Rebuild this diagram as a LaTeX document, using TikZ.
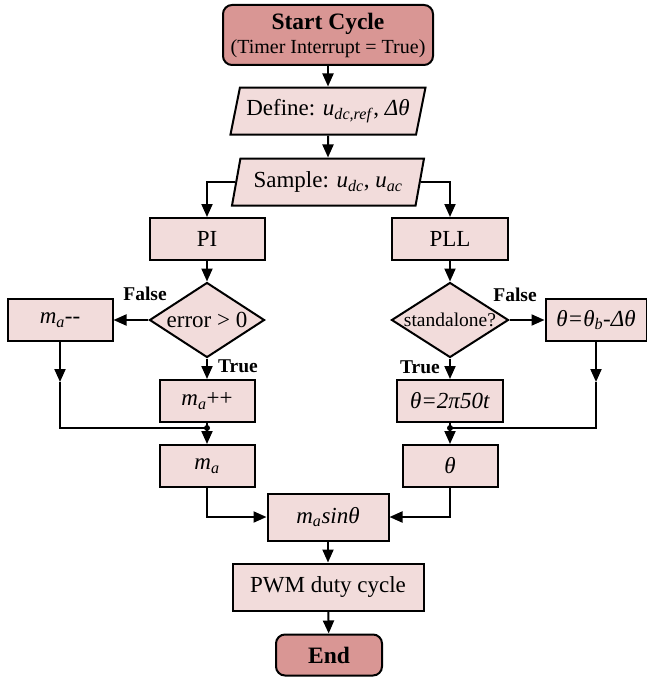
\documentclass[tikz,border=0pt]{standalone}
\usepackage{fontspec}
\setmainfont{Liberation Serif}
\usetikzlibrary{shapes.geometric,arrows.meta}
\definecolor{darkfill}{HTML}{D99694}
\definecolor{lightfill}{HTML}{F2DCDB}
\newcommand{\dtext}[1]{\smash{\makebox[0pt]{\raisebox{-0.32em}{#1}}}}
\begin{document}
\begin{tikzpicture}[x=1pt,y=-1pt,
  base/.style={draw=black,line width=2pt,font=\fontsize{23}{25}\selectfont},
  term/.style={base,rectangle,rounded corners=9pt,fill=darkfill,inner sep=0pt,align=center},
  proc/.style={base,rectangle,fill=lightfill,inner sep=0pt},
  io/.style={base,trapezium,trapezium left angle=68,trapezium right angle=112,trapezium stretches body,fill=lightfill,inner sep=0pt},
  dec/.style={base,diamond,fill=lightfill,inner sep=0pt},
  conn/.style={line width=2pt,-{Triangle[length=13pt,width=11pt]}},
  plain/.style={line width=2pt},
  lbl/.style={font=\fontsize{19.5}{21}\selectfont\bfseries}
]
\useasboundingbox (0,0) rectangle (647,677);

\node[term,minimum width=210pt,minimum height=60pt] (start) at (328,35)
  {{\fontsize{23.5}{25}\selectfont\bfseries Start Cycle}\\[-1pt]{\fontsize{20}{22}\selectfont (Timer Interrupt = True)}};
\node[io,minimum width=195pt,minimum height=47pt] (def) at (328,111)
  {Define: \textit{u}\textsubscript{\textit{dc,ref}}, \textit{Δθ}};
\node[io,minimum width=192pt,minimum height=47pt] (sample) at (328,182)
  {Sample: \textit{u}\textsubscript{\textit{dc}}, \textit{u}\textsubscript{\textit{ac}}};
\node[proc,minimum width=115pt,minimum height=42pt] (pi) at (207,239) {PI};
\node[proc,minimum width=116pt,minimum height=42pt] (pll) at (450,239) {PLL};
\node[dec,minimum width=115pt,minimum height=75pt] (err) at (207,320) {\dtext{error > 0}};
\node[dec,minimum width=117pt,minimum height=75pt,font=\fontsize{19.5}{21}\selectfont] (sa) at (450,320) {\dtext{standalone?}};
\node[proc,minimum width=105pt,minimum height=42pt] (mam) at (60,320) {\textit{m}\textsubscript{\textit{a}}-{}-};
\node[proc,minimum width=95pt,minimum height=42pt] (map) at (207,401) {\textit{m}\textsubscript{\textit{a}}++};
\node[proc,minimum width=95pt,minimum height=42pt] (ma) at (207,466) {\textit{m}\textsubscript{\textit{a}}};
\node[proc,minimum width=101pt,minimum height=42pt] (thb) at (596,320) {\textit{θ=θ\textsubscript{b}-Δθ}};
\node[proc,minimum width=106pt,minimum height=42pt] (t50) at (450,401) {\textit{θ=2π50t}};
\node[proc,minimum width=95pt,minimum height=42pt] (th) at (450,466) {\textit{θ}};
\node[proc,minimum width=121pt,minimum height=47pt] (mas) at (328,517) {\textit{m\textsubscript{a}sinθ}};
\node[proc,minimum width=191pt,minimum height=47pt] (pwm) at (328,587) {PWM duty cycle};
\node[term,minimum width=106pt,minimum height=41pt] (endn) at (329,655) {{\fontsize{23.5}{25}\selectfont\bfseries End}};

\node[lbl] (f1) at (145,294) {False};
\node[lbl] (t1) at (238,366) {True};
\node[lbl] (f2) at (515,295) {False};
\node[lbl] (t2) at (420,367) {True};

\coordinate (jl) at (207,428);
\coordinate (jr) at (450,428);
\coordinate (mal) at (60,382);
\coordinate (thr) at (596,382);

\draw[conn] (start) -- (def);
\draw[conn] (def) -- (sample);
\draw[conn] (sample.left side) -| (pi);
\draw[conn] (sample.right side) -| (pll);
\draw[conn] (pi) -- (err);
\draw[conn] (pll) -- (sa);
\draw[conn] (err) -- (mam);
\draw[conn] (err) -- (map);
\draw[conn] (sa) -- (thb);
\draw[conn] (sa) -- (t50);
\draw[conn] (mam) -- (mal);
\draw[plain] (mal) |- (jl);
\draw[conn] (thb) -- (thr);
\draw[plain] (thr) |- (jr);
\draw[conn] (map) -- (ma);
\draw[conn] (t50) -- (th);
\fill (jl) circle (3pt);
\fill (jr) circle (3pt);
\draw[conn] (ma) |- (mas);
\draw[conn] (th) |- (mas);
\draw[conn] (mas) -- (pwm);
\draw[conn] (pwm) -- (endn);
\end{tikzpicture}
\end{document}
